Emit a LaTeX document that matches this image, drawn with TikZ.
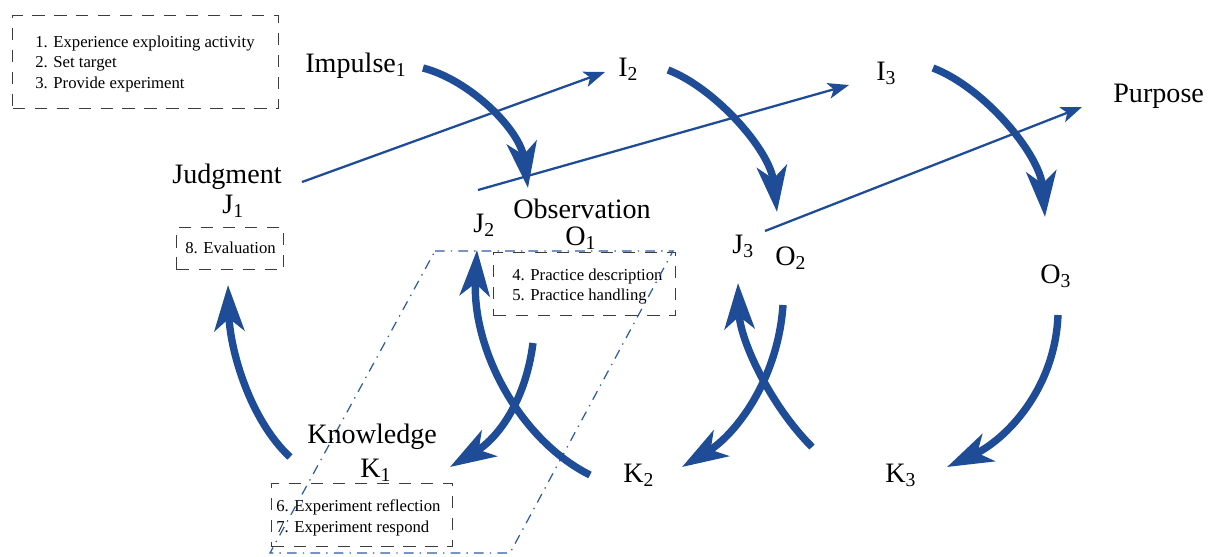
\documentclass[tikz,border=0pt]{standalone}
\usepackage{fontspec}
\setmainfont{Liberation Serif}
\usetikzlibrary{arrows.meta}
\definecolor{flowblue}{RGB}{30,76,150}
\definecolor{boxgray}{RGB}{60,60,60}
\definecolor{dotblue}{RGB}{45,90,165}
\newcommand{\sbs}[1]{\textsubscript{#1}}
\begin{document}
\begin{tikzpicture}[x=0.02cm,y=-0.02cm,
  lbl/.style={anchor=base west, inner sep=0pt, font=\fontsize{16}{19}\selectfont},
  smalltext/.style={anchor=base west, inner sep=0pt, font=\fontsize{9.5}{11}\selectfont},
  dbox/.style={draw=boxgray, line width=0.75pt, dash pattern=on 7pt off 5.5pt, anchor=north west, inner sep=0pt},
  flowarrow/.style={draw=flowblue, line width=4.2pt, -{Stealth[length=26pt,width=17pt,inset=7pt]}},
  linkarrow/.style={draw=flowblue, line width=1.3pt, -{Stealth[length=12pt,width=9pt,inset=3pt]}},
  dashdot/.style={draw=dotblue, line width=0.7pt, dash pattern=on 5.5pt off 3.5pt on 0.8pt off 3.5pt}]
\useasboundingbox (0,0) rectangle (1215,556);

% dashed boxes
\node[dbox, minimum width=5.32cm, minimum height=1.86cm] (box1) at (12,15) {};
\node[dbox, minimum width=2.14cm, minimum height=0.84cm] (box8) at (176,227) {};
\node[dbox, minimum width=3.64cm, minimum height=1.26cm] (box45) at (493,252) {};
\node[dbox, minimum width=3.62cm, minimum height=1.26cm] (box67) at (271,483) {};

\node[smalltext] (t1) at (35,47) {1. Experience exploiting activity};
\node[smalltext] (t2) at (35,67) {2. Set target};
\node[smalltext] (t3) at (35,88) {3. Provide experiment};
\node[smalltext] (t8) at (185,253) {8. Evaluation};
\node[smalltext] (t4) at (512,280) {4. Practice description};
\node[smalltext] (t5) at (512,300) {5. Practice handling};
\node[smalltext] (t6) at (276,511) {6. Experiment reflection};
\node[smalltext] (t7) at (276,532) {7. Experiment respond};

% dash-dot parallelogram
\coordinate (pTL) at (435,251);
\coordinate (pTR) at (673,251);
\coordinate (pBR) at (510,553);
\coordinate (pBL) at (270,553);
\draw[dashdot] (pTL) -- (pTR) -- (pBR) -- (pBL) -- cycle;

% labels
\node[lbl] (imp) at (305,72) {Impulse\sbs{1}};
\node[lbl] (i2) at (618,76) {I\sbs{2}};
\node[lbl] (i3) at (876,80) {I\sbs{3}};
\node[lbl] (purp) at (1113,102) {Purpose};
\node[lbl] (judg) at (172,183) {Judgment};
\node[lbl] (j1) at (222,213) {J\sbs{1}};
\node[lbl] (j2) at (473,232) {J\sbs{2}};
\node[lbl] (obs) at (513,218) {Observation};
\node[lbl] (o1) at (565,245) {O\sbs{1}};
\node[lbl] (j3) at (732,253) {J\sbs{3}};
\node[lbl] (o2) at (775,265) {O\sbs{2}};
\node[lbl] (o3) at (1040,283) {O\sbs{3}};
\node[lbl] (know) at (307,443) {Knowledge};
\node[lbl] (k1) at (360,477) {K\sbs{1}};
\node[lbl] (k2) at (623,482) {K\sbs{2}};
\node[lbl] (k3) at (885,482) {K\sbs{3}};

% endpoints
\coordinate (s1) at (423,68);  \coordinate (e1) at (528,188);
\coordinate (s2) at (668,70);  \coordinate (e2) at (777,212);
\coordinate (s3) at (933,68);  \coordinate (e3) at (1045,217);
\coordinate (s4) at (533,343); \coordinate (e4) at (450,467);
\coordinate (s5) at (590,475); \coordinate (e5) at (477,250);
\coordinate (s6) at (783,305); \coordinate (e6) at (682,467);
\coordinate (s7) at (812,447); \coordinate (e7) at (738,283);
\coordinate (s8) at (1058,315);\coordinate (e8) at (947,467);
\coordinate (s9) at (290,457); \coordinate (e9) at (228,285);

\draw[flowarrow] (s1) .. controls (470,80) and (520,130) .. (e1);
\draw[flowarrow] (s2) .. controls (715,88) and (770,150) .. (e2);
\draw[flowarrow] (s3) .. controls (985,88) and (1040,155) .. (e3);
\draw[flowarrow] (s4) .. controls (525,405) and (495,440) .. (e4);
\draw[flowarrow] (s5) .. controls (520,440) and (472,350) .. (e5);
\draw[flowarrow] (s6) .. controls (778,380) and (735,435) .. (e6);
\draw[flowarrow] (s7) .. controls (770,405) and (740,340) .. (e7);
\draw[flowarrow] (s8) .. controls (1055,390) and (1005,440) .. (e8);
\draw[flowarrow] (s9) .. controls (250,420) and (230,350) .. (e9);

% thin links
\coordinate (l1s) at (302,182); \coordinate (l1e) at (605,72);
\coordinate (l2s) at (478,190); \coordinate (l2e) at (849,85);
\coordinate (l3s) at (765,231); \coordinate (l3e) at (1082,107);
\draw[linkarrow] (l1s) -- (l1e);
\draw[linkarrow] (l2s) -- (l2e);
\draw[linkarrow] (l3s) -- (l3e);
\end{tikzpicture}
\end{document}
